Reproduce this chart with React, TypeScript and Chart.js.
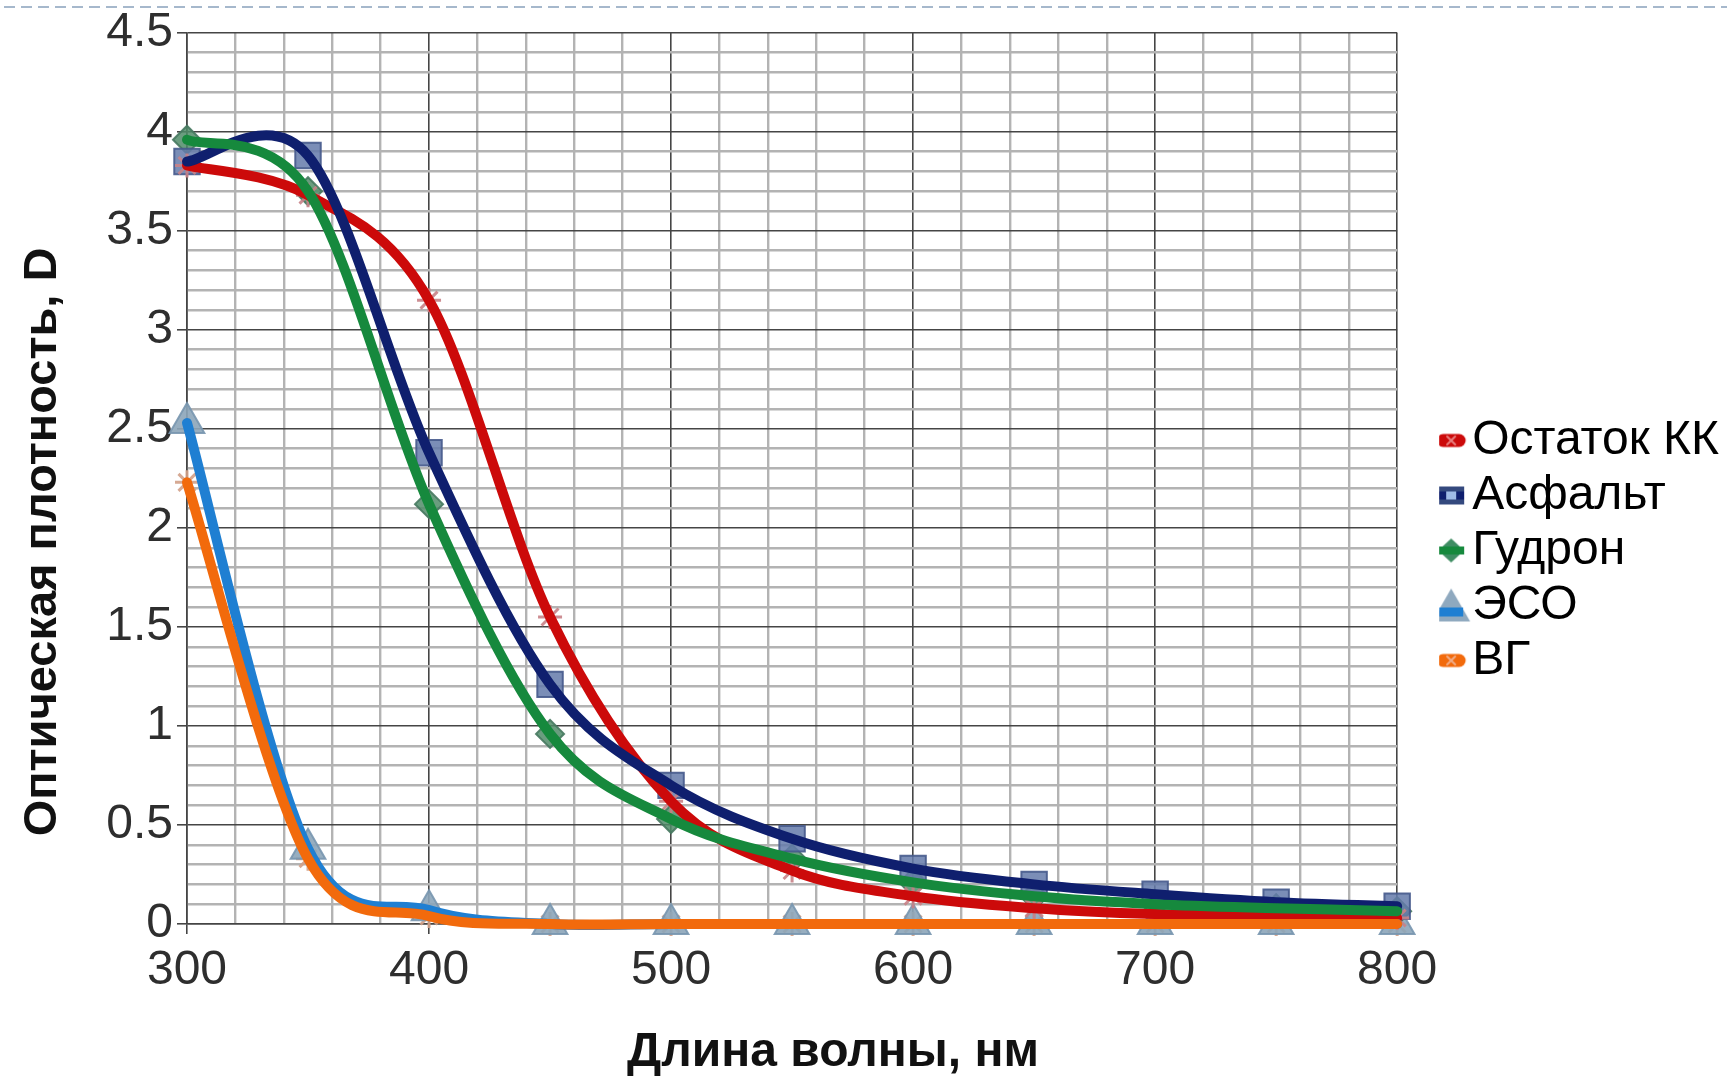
import React, { useEffect, useRef } from "react";
import { Chart, registerables } from "chart.js";

Chart.register(...registerables);

// ---- data ----
const wavelengths = [300, 350, 400, 450, 500, 550, 600, 650, 700, 750, 800];
const ostatokKK = [3.83, 3.68, 3.15, 1.55, 0.62, 0.27, 0.14, 0.08, 0.05, 0.04, 0.03];
const asfalt = [3.85, 3.88, 2.38, 1.21, 0.7, 0.43, 0.28, 0.2, 0.15, 0.11, 0.09];
const gudron = [3.96, 3.7, 2.12, 0.96, 0.53, 0.33, 0.21, 0.14, 0.1, 0.08, 0.065];
const eso = [2.53, 0.38, 0.07, 0, 0, 0, 0, 0, 0, 0, 0];
const vg = [2.23, 0.33, 0.04, 0, 0, 0, 0, 0, 0, 0, 0];

const seriesNames = ["Остаток КК", "Асфальт", "Гудрон", "ЭСО", "ВГ"];
const seriesValues = [ostatokKK, asfalt, gudron, eso, vg];

const xTitle = "Длина волны, нм";
const yTitle = "Оптическая плотность, D";

const xMin = 300;
const xMax = 800;
const xStep = 20;
const xLabelStep = 100;
const yMin = 0;
const yMax = 4.5;
const yStep = 0.1;
const yLabelStep = 0.5;

// ---- styles ----
const FONT = "'Liberation Sans', Arial, sans-serif";
const lineColors = ["#cc0a0a", "#0f1f6e", "#16893d", "#1f7fd2", "#f26a0c"];
const markerStyles: any[] = [
  { style: "star", radius: 12, bg: "rgba(205,140,140,0.85)", border: "rgba(200,130,135,0.9)", bw: 3 },
  { style: "rect", radius: 18, bg: "rgba(100,122,170,0.85)", border: "rgba(70,90,140,0.9)", bw: 2 },
  { style: "rectRot", radius: 14, bg: "rgba(80,140,105,0.85)", border: "rgba(70,120,95,0.9)", bw: 2 },
  { style: "triangle", radius: 20, bg: "rgba(140,165,185,0.9)", border: "rgba(120,150,175,0.9)", bw: 2 },
  { style: "star", radius: 12, bg: "rgba(215,165,140,0.85)", border: "rgba(210,160,135,0.9)", bw: 3 },
];

const isMultiple = (v: number, step: number) =>
  Math.abs(v / step - Math.round(v / step)) < 1e-6;

function makeIcon(i: number): HTMLCanvasElement {
  const c = document.createElement("canvas");
  c.width = 48;
  c.height = 38;
  const g = c.getContext("2d")!;
  const cx = 28;
  const cy = 19;
  const col = lineColors[i];
  if (i === 0 || i === 4) {
    g.strokeStyle = col;
    g.lineWidth = 13;
    g.lineCap = "round";
    g.beginPath();
    g.moveTo(cx - 8, cy);
    g.lineTo(cx + 8, cy);
    g.stroke();
    g.strokeStyle = i === 0 ? "rgba(235,140,140,0.9)" : "rgba(240,180,150,0.9)";
    g.lineWidth = 2;
    g.beginPath();
    g.moveTo(cx - 4, cy - 4);
    g.lineTo(cx + 4, cy + 4);
    g.moveTo(cx + 4, cy - 4);
    g.lineTo(cx - 4, cy + 4);
    g.stroke();
  } else if (i === 1) {
    g.fillStyle = "#34497e";
    g.fillRect(cx - 13, cy - 9, 26, 18);
    g.fillStyle = col;
    g.fillRect(cx - 13, cy - 4, 26, 8);
    g.fillStyle = "#9fbbe6";
    g.fillRect(cx - 5, cy - 4, 10, 8);
  } else if (i === 2) {
    g.fillStyle = "#3f8d63";
    g.beginPath();
    g.moveTo(cx, cy - 12);
    g.lineTo(cx + 13, cy);
    g.lineTo(cx, cy + 12);
    g.lineTo(cx - 13, cy);
    g.closePath();
    g.fill();
    g.fillStyle = col;
    g.fillRect(cx - 13, cy - 4, 26, 8);
  } else {
    g.fillStyle = "#8fa9bf";
    g.beginPath();
    g.moveTo(cx, cy - 17);
    g.lineTo(cx + 19, cy + 16);
    g.lineTo(cx - 19, cy + 16);
    g.closePath();
    g.fill();
    g.fillStyle = col;
    g.fillRect(cx - 12, cy + 2, 24, 9);
  }
  return c;
}

// Excel-like smoothing: uniform Catmull-Rom control points computed from the
// element positions the library produced.
const smoothPlugin = {
  id: "excelSmooth",
  beforeDatasetDraw(chart: any, args: any) {
    const meta = args.meta;
    const line = meta.dataset;
    const ds = chart.data.datasets[args.index];
    if (!line || ds.showLine === false) return;
    const pts = meta.data;
    const n = pts.length;
    if (n < 2) return;
    line.updateControlPoints(chart.chartArea, "x");
    for (let i = 0; i < n; i++) {
      const p = pts[i];
      const prev = pts[Math.max(0, i - 1)];
      const next = pts[Math.min(n - 1, i + 1)];
      const dx = (next.x - prev.x) / 6;
      const dy = (next.y - prev.y) / 6;
      p.cp1x = p.x - dx;
      p.cp1y = p.y - dy;
      p.cp2x = p.x + dx;
      p.cp2y = p.y + dy;
    }
  },
};

const decorPlugin = {
  id: "decor",
  beforeDraw(chart: any) {
    const ctx = chart.ctx;
    ctx.save();
    ctx.fillStyle = "#ffffff";
    ctx.fillRect(0, 0, chart.width, chart.height);
    ctx.strokeStyle = "#a6b8cc";
    ctx.lineWidth = 2;
    ctx.setLineDash([11, 6]);
    ctx.beginPath();
    ctx.moveTo(4, 7);
    ctx.lineTo(chart.width, 7);
    ctx.stroke();
    ctx.restore();
  },
  afterDraw(chart: any) {
    const ctx = chart.ctx;
    ctx.save();
    ctx.fillStyle = "#111";
    ctx.textAlign = "center";
    ctx.textBaseline = "alphabetic";
    ctx.font = `bold 48px ${FONT}`;
    ctx.fillText(xTitle, 833, 1066);
    ctx.font = `bold 47px ${FONT}`;
    ctx.translate(56, 542);
    ctx.rotate(-Math.PI / 2);
    ctx.fillText(yTitle, 0, 0);
    ctx.restore();
  },
};

export default function App() {
  const ref = useRef<HTMLCanvasElement | null>(null);

  useEffect(() => {
    if (!ref.current) return;
    const icons = seriesNames.map((_, i) => makeIcon(i));

    const lineSets = seriesNames.map((name, i) => ({
      type: "line",
      label: name,
      data: wavelengths.map((x, k) => ({ x, y: seriesValues[i][k] })),
      borderColor: lineColors[i],
      backgroundColor: lineColors[i],
      borderWidth: 10,
      borderCapStyle: "round",
      borderJoinStyle: "round",
      pointRadius: 0,
      pointHoverRadius: 0,
      tension: 0.4,
      fill: false,
      clip: false,
      order: 5 - i,
    }));
    const markerSets = seriesNames.map((name, i) => ({
      type: "line",
      label: name + " (точки)",
      data: wavelengths.map((x, k) => ({ x, y: seriesValues[i][k] })),
      showLine: false,
      pointStyle: markerStyles[i].style,
      pointRadius: markerStyles[i].radius,
      pointBackgroundColor: markerStyles[i].bg,
      pointBorderColor: markerStyles[i].border,
      pointBorderWidth: markerStyles[i].bw,
      clip: false,
      order: 10,
    }));

    const gridColor = (step: number) => (ctx: any) =>
      isMultiple(ctx.tick.value, step) ? "#454545" : "#b3b3b3";
    const gridWidth = (step: number) => (ctx: any) =>
      isMultiple(ctx.tick.value, step) ? 1.6 : 2.4;
    const tickColor = (step: number) => (ctx: any) =>
      isMultiple(ctx.tick.value, step) ? "#454545" : "rgba(0,0,0,0)";

    const chart = new Chart(ref.current, {
      type: "line",
      data: { datasets: [...lineSets, ...markerSets] as any },
      plugins: [decorPlugin, smoothPlugin],
      options: {
        responsive: false,
        animation: false,
        devicePixelRatio: 1,
        layout: { padding: { top: 31, left: 0, right: 0, bottom: 8 } },
        plugins: {
          tooltip: { enabled: false },
          legend: {
            display: true,
            position: "right",
            align: "center",
            labels: {
              usePointStyle: true,
              pointStyleWidth: 2,
              padding: 7,
              color: "#1a1a1a",
              font: { family: FONT, size: 48 },
              generateLabels: () =>
                seriesNames.map((name, i) => ({
                  text: name,
                  pointStyle: icons[i],
                  fillStyle: lineColors[i],
                  strokeStyle: lineColors[i],
                  lineWidth: 0,
                  hidden: false,
                  datasetIndex: i,
                })) as any,
            },
          },
        },
        scales: {
          x: {
            type: "linear",
            min: xMin,
            max: xMax,
            afterFit: (s: any) => {
              s.height = 146;
            },
            ticks: {
              stepSize: xStep,
              autoSkip: false,
              maxRotation: 0,
              minRotation: 0,
              padding: 8,
              color: "#2e2e2e",
              font: { family: FONT, size: 48 },
              callback: (v: any) => (isMultiple(Number(v), xLabelStep) ? String(v) : ""),
            },
            grid: {
              color: gridColor(xLabelStep),
              lineWidth: gridWidth(xLabelStep),
              tickColor: tickColor(xLabelStep),
              tickLength: 10,
            },
            border: { display: true, color: "#454545", width: 1.6 },
          },
          y: {
            type: "linear",
            min: yMin,
            max: yMax,
            afterFit: (s: any) => {
              s.width = 187;
            },
            ticks: {
              stepSize: yStep,
              autoSkip: false,
              padding: 4,
              color: "#2e2e2e",
              font: { family: FONT, size: 48 },
              callback: (v: any) =>
                isMultiple(Number(v), yLabelStep) ? String(Math.round(Number(v) * 10) / 10) : "",
            },
            grid: {
              color: gridColor(yLabelStep),
              lineWidth: gridWidth(yLabelStep),
              tickColor: tickColor(yLabelStep),
              tickLength: 10,
            },
            border: { display: true, color: "#454545", width: 1.6 },
          },
          spacer: {
            type: "linear",
            position: "right",
            display: true,
            afterFit: (s: any) => {
              s.width = 42;
            },
            ticks: { display: false },
            grid: { display: false, drawTicks: false },
            border: { display: false },
          },
        },
      } as any,
    });
    return () => chart.destroy();
  }, []);

  return (
    <div
      style={{
        position: "fixed",
        left: 0,
        top: 0,
        width: 1727,
        height: 1078,
        background: "#fff",
      }}
    >
      <canvas ref={ref} width={1727} height={1078} style={{ display: "block", width: 1727, height: 1078 }} />
    </div>
  );
}
